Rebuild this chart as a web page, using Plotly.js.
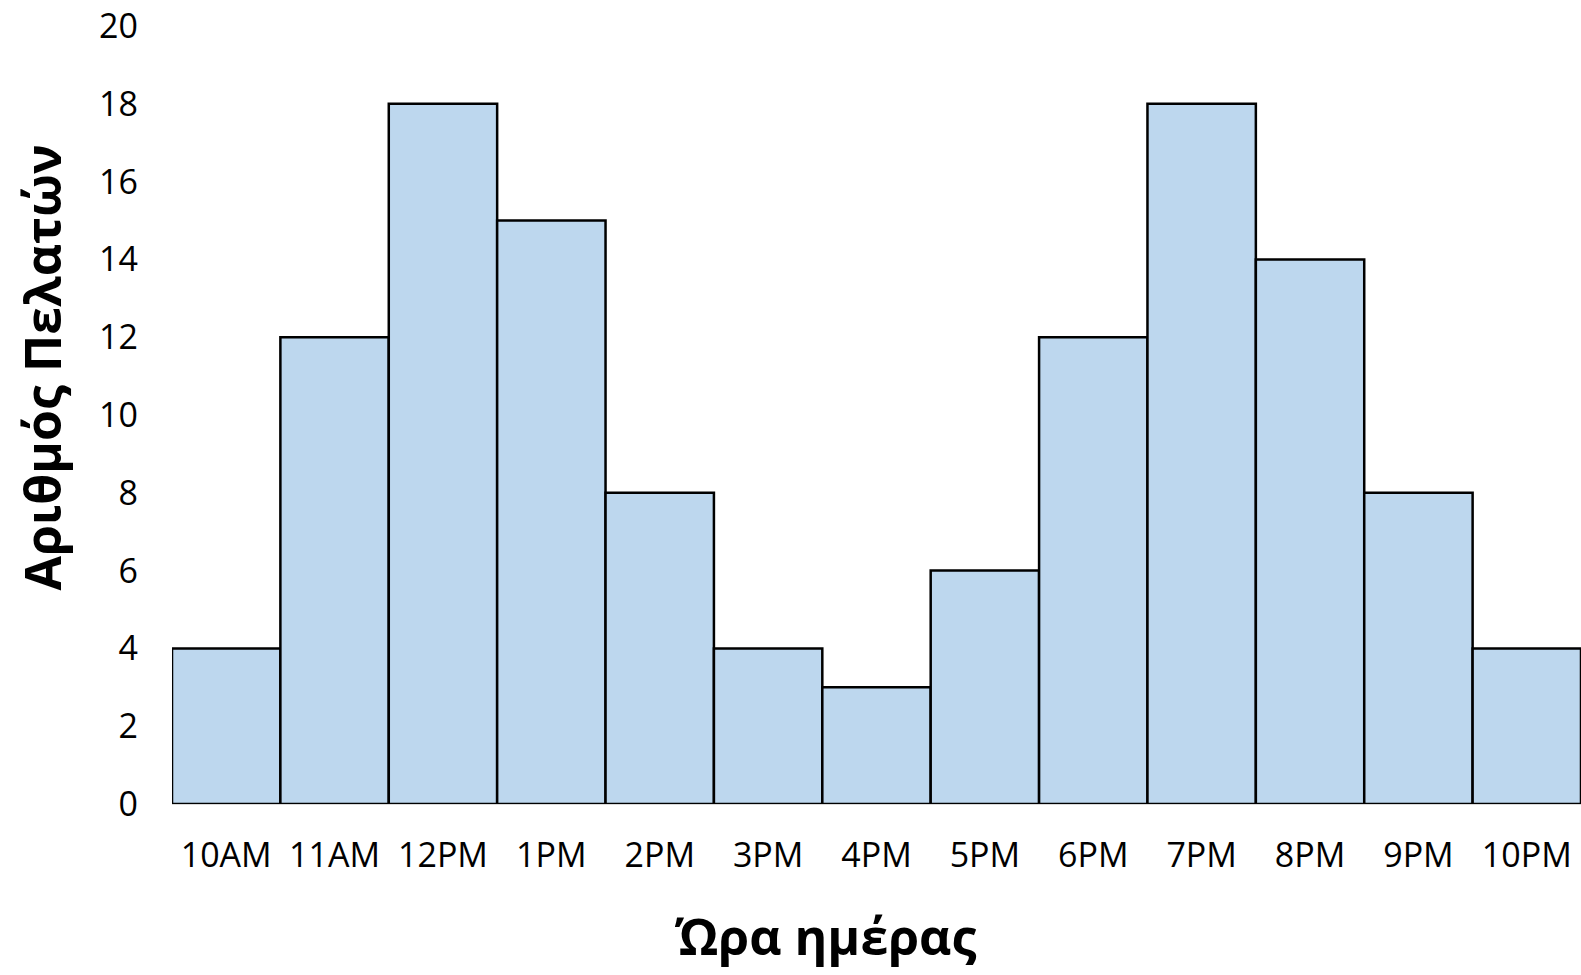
<!DOCTYPE html>
<html>
<head>
<meta charset="utf-8">
<script src="https://cdn.plot.ly/plotly-3.0.1.min.js"></script>
<style>html,body{margin:0;padding:0;background:#fff;}#chart{width:1581px;height:975px;}</style>
</head>
<body>
<div id="chart"></div>
<script>
const hours = ["10AM","11AM","12PM","1PM","2PM","3PM","4PM","5PM","6PM","7PM","8PM","9PM","10PM"];
const customers = [4, 12, 18, 15, 8, 4, 3, 6, 12, 18, 14, 8, 4];
const yTicks = [0, 2, 4, 6, 8, 10, 12, 14, 16, 18, 20];
const xTitle = "Ώρα ημέρας";
const yTitle = "Αριθμός Πελατών";

const trace = {
  type: "bar",
  x: hours,
  y: customers,
  marker: {color: "#BDD7EE", line: {color: "#000000", width: 2.5}},
  hoverinfo: "x+y"
};

const titleFont = {family: "'Open Sans', 'DejaVu Sans', sans-serif", size: 50, color: "#000", weight: "bold"};

const layout = {
  width: 1581,
  height: 975,
  margin: {l: 172, r: 0, t: 26, b: 171},
  paper_bgcolor: "#ffffff",
  plot_bgcolor: "#ffffff",
  bargap: 0,
  showlegend: false,
  font: {family: "'Open Sans', 'DejaVu Sans', sans-serif", color: "#000000"},
  xaxis: {
    type: "category",
    showgrid: false,
    zeroline: false,
    showline: true,
    linecolor: "#d9d9d9",
    linewidth: 1,
    ticks: "",
    ticklabelstandoff: 21,
    tickfont: {size: 34, color: "#000"}
  },
  yaxis: {
    range: [0, 20],
    tickvals: yTicks,
    showgrid: false,
    zeroline: false,
    showline: false,
    ticks: "",
    ticklabelstandoff: 33,
    ticklabeloverflow: "allow",
    tickfont: {size: 34, color: "#000"}
  },
  annotations: [
    {text: xTitle, xref: "paper", yref: "paper", x: 0.464, y: -0.1694, xanchor: "center", yanchor: "middle", showarrow: false, font: titleFont},
    {text: yTitle, xref: "paper", yref: "paper", x: -0.092, y: 0.5614, xanchor: "center", yanchor: "middle", textangle: -90, showarrow: false, font: titleFont}
  ]
};

Plotly.newPlot("chart", [trace], layout, {displayModeBar: false, staticPlot: true});
</script>
</body>
</html>
